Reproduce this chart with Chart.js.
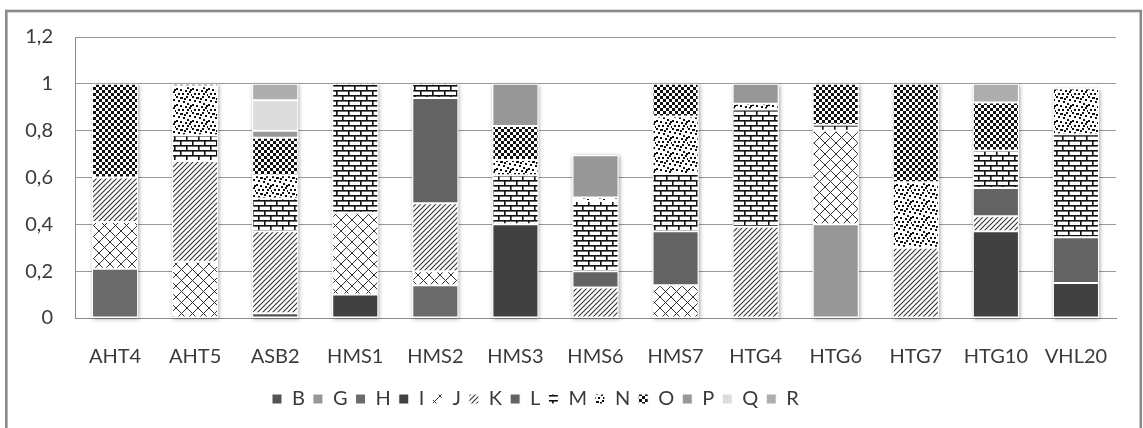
<!DOCTYPE html>
<html>
<head>
<meta charset="utf-8">
<script src="https://cdn.jsdelivr.net/npm/chart.js@4.4.1/dist/chart.umd.min.js"></script>
<style>
  html, body { margin: 0; padding: 0; background: #fff; overflow: hidden; }
  #wrap { position: relative; width: 1143px; height: 428px; }
</style>
</head>
<body>
<div id="wrap"><canvas id="c" width="1143" height="428"></canvas></div>
<script>
// Markers (categories)
const markers = ['AHT4', 'AHT5', 'ASB2', 'HMS1', 'HMS2', 'HMS3', 'HMS6', 'HMS7', 'HTG4', 'HTG6', 'HTG7', 'HTG10', 'VHL20'];

// Allele frequencies per allele, one value per marker
const alleleB = [0, 0, 0.02, 0, 0, 0, 0, 0, 0, 0, 0, 0, 0];
const alleleG = [0, 0, 0, 0, 0, 0, 0, 0, 0, 0.40, 0, 0, 0];
const alleleH = [0.21, 0, 0, 0, 0.14, 0, 0, 0, 0, 0, 0, 0, 0];
const alleleI = [0, 0, 0, 0.10, 0, 0.40, 0, 0, 0, 0, 0, 0.37, 0.15];
const alleleJ = [0.20, 0.24, 0, 0.35, 0.06, 0, 0, 0.14, 0, 0.40, 0, 0, 0];
const alleleK = [0.19, 0.43, 0.35, 0, 0.29, 0, 0.13, 0, 0.39, 0, 0.30, 0.065, 0];
const alleleL = [0, 0, 0, 0, 0.45, 0, 0.07, 0.23, 0, 0, 0, 0.12, 0.195];
const alleleM = [0, 0.11, 0.14, 0.55, 0.06, 0.21, 0.30, 0.245, 0.50, 0.025, 0, 0.16, 0.44];
const alleleN = [0, 0.21, 0.10, 0, 0, 0.065, 0.015, 0.245, 0.025, 0, 0.28, 0, 0.195];
const alleleO = [0.40, 0.01, 0.16, 0, 0, 0.145, 0, 0.14, 0, 0.175, 0.42, 0.205, 0];
const alleleP = [0, 0, 0.03, 0, 0, 0.18, 0.18, 0, 0.085, 0, 0, 0, 0];
const alleleQ = [0, 0, 0.13, 0, 0, 0, 0, 0, 0, 0, 0, 0, 0];
const alleleR = [0, 0, 0.07, 0, 0, 0, 0, 0, 0, 0, 0, 0.08, 0];

// Y axis tick labels (decimal comma)
const yTickLabels = ['0', '0,2', '0,4', '0,6', '0,8', '1', '1,2'];

const canvas = document.getElementById('c');
const mainCtx = canvas.getContext('2d');

// Build a repeating fill pattern from a small tile
function tile(w, h, paint) {
  const t = document.createElement('canvas');
  t.width = w; t.height = h;
  const g = t.getContext('2d');
  g.fillStyle = '#fff';
  g.fillRect(0, 0, w, h);
  paint(g, w, h);
  return mainCtx.createPattern(t, 'repeat');
}

// Outlined diamond lattice
const patDiamond = tile(11, 11, (g, w, h) => {
  g.strokeStyle = '#333'; g.lineWidth = 1;
  g.beginPath();
  g.moveTo(0, 0); g.lineTo(w, h);
  g.moveTo(w, 0); g.lineTo(0, h);
  g.stroke();
});

// Upward diagonal stripes
const patDiag = tile(5, 5, (g, w, h) => {
  g.strokeStyle = '#333'; g.lineWidth = 1.1;
  g.beginPath();
  g.moveTo(-1, h + 1); g.lineTo(w + 1, -1);
  g.moveTo(-1, 1); g.lineTo(1, -1);
  g.moveTo(w - 1, h + 1); g.lineTo(w + 1, h - 1);
  g.stroke();
});

// Horizontal brick
const patBrick = tile(12, 10, (g) => {
  g.fillStyle = '#111';
  g.fillRect(0, 0, 12, 1.6);
  g.fillRect(0, 5, 12, 1.6);
  g.fillRect(0, 0, 1.6, 5);
  g.fillRect(6, 5, 1.6, 5);
});

// Confetti dots
const patConfetti = tile(16, 16, (g) => {
  g.fillStyle = '#111';
  const dots = [[0,0],[5,1],[10,0],[13,3],[2,4],[7,5],[11,7],[0,8],[4,9],[9,10],[14,9],[2,13],[6,13],[11,13],[15,14],[8,2],[13,11],[4,1]];
  dots.forEach(([x, y]) => g.fillRect(x, y, 2, 2));
});

// Small checkerboard
const patChecker = tile(6, 6, (g) => {
  g.fillStyle = '#111';
  g.fillRect(0, 0, 3, 3);
  g.fillRect(3, 3, 3, 3);
});

const series = [
  { label: 'B', data: alleleB, fill: '#555555' },
  { label: 'G', data: alleleG, fill: '#979797' },
  { label: 'H', data: alleleH, fill: '#6b6b6b' },
  { label: 'I', data: alleleI, fill: '#414141' },
  { label: 'J', data: alleleJ, fill: patDiamond },
  { label: 'K', data: alleleK, fill: patDiag },
  { label: 'L', data: alleleL, fill: '#636363' },
  { label: 'M', data: alleleM, fill: patBrick },
  { label: 'N', data: alleleN, fill: patConfetti },
  { label: 'O', data: alleleO, fill: patChecker },
  { label: 'P', data: alleleP, fill: '#979797' },
  { label: 'Q', data: alleleQ, fill: '#dcdcdc' },
  { label: 'R', data: alleleR, fill: '#adadad' }
];

// Soft glow behind each whole stacked column
const barShadow = {
  id: 'barShadow',
  beforeDatasetsDraw(chart) {
    const ctx = chart.ctx;
    const yScale = chart.scales.y;
    const zero = yScale.getPixelForValue(0);
    const metas = chart.getSortedVisibleDatasetMetas();
    ctx.save();
    ctx.shadowColor = 'rgba(0,0,0,0.35)';
    ctx.shadowBlur = 4;
    ctx.shadowOffsetX = 1;
    ctx.shadowOffsetY = 1;
    ctx.fillStyle = '#fff';
    chart.data.labels.forEach((_, i) => {
      let top = zero, x = null, w = 0;
      metas.forEach(m => {
        const el = m.data[i];
        if (!el) return;
        const p = el.getProps(['x', 'y', 'base', 'width'], true);
        if (Math.abs(p.base - p.y) > 0.5) { top = Math.min(top, p.y); x = p.x; w = p.width; }
      });
      if (x !== null) ctx.fillRect(x - w / 2, top, w, zero - top);
    });
    ctx.restore();
  }
};

// Outer chart frame and legend placement
const frame = {
  id: 'frame',
  afterLayout(chart) {
    const lg = chart.legend;
    const shift = 264 - lg.left;
    lg.left += shift;
    lg.right += shift;
  },
  beforeDraw(chart) {
    const ctx = chart.ctx;
    ctx.save();
    ctx.fillStyle = '#fff';
    ctx.fillRect(0, 0, chart.width, chart.height);
    ctx.strokeStyle = '#8a8a8a';
    ctx.lineWidth = 2.6;
    ctx.strokeRect(6.3, 11, 1134.5, 440);
    ctx.restore();
  }
};

const FONT = 'Lato';
const TEXT = '#3a3a3a';

new Chart(canvas, {
  type: 'bar',
  data: {
    labels: markers,
    datasets: series.map(s => ({
      label: s.label,
      data: s.data,
      backgroundColor: s.fill,
      borderColor: '#ffffff',
      borderWidth: 1,
      borderSkipped: false,
      stack: 'alleles',
      categoryPercentage: 1,
      barPercentage: 0.575
    }))
  },
  options: {
    responsive: false,
    animation: false,
    events: [],
    layout: { padding: { left: 0, right: 27, top: 37, bottom: 9 } },
    plugins: {
      tooltip: { enabled: false },
      legend: {
        position: 'bottom',
        align: 'start',
        labels: {
          boxWidth: 10,
          boxHeight: 10,
          padding: 8,
          color: TEXT,
          font: { family: FONT, size: 20 }
        }
      }
    },
    scales: {
      x: {
        stacked: true,
        grid: { display: false },
        border: { display: true, color: '#8c8c8c', width: 1 },
        ticks: { color: TEXT, font: { family: FONT, size: 20 }, padding: 19, maxRotation: 0, autoSkip: false },
        afterFit(scale) { scale.height = 63; }
      },
      y: {
        stacked: true,
        min: 0,
        max: 1.2,
        ticks: {
          stepSize: 0.2,
          padding: 22,
          color: TEXT,
          font: { family: FONT, size: 20 },
          callback: (v, i) => yTickLabels[i]
        },
        grid: { color: '#999999', lineWidth: 1, drawTicks: false },
        border: { display: true, color: '#8c8c8c', width: 1 },
        afterFit(scale) { scale.width = 75; }
      }
    }
  },
  plugins: [frame, barShadow]
});
</script>
</body>
</html>
